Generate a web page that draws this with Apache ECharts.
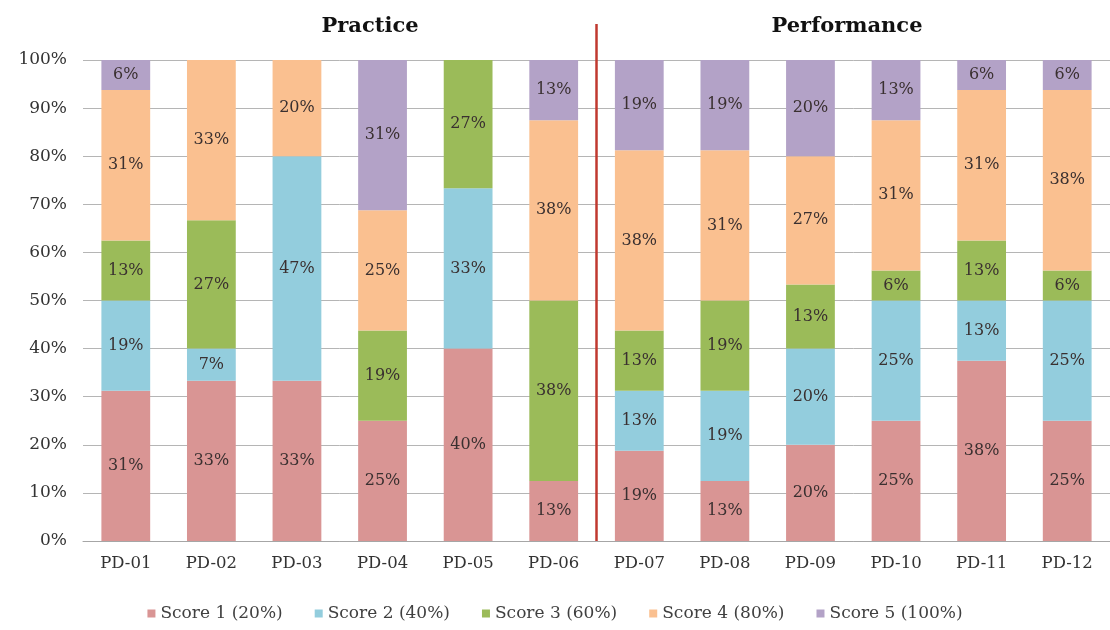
<!DOCTYPE html>
<html>
<head>
<meta charset="utf-8">
<script src="https://cdn.jsdelivr.net/npm/echarts@6/dist/echarts.min.js"></script>
<style>
  html, body { margin: 0; padding: 0; background: #fff; }
  #chart { width: 1110px; height: 630px; }
</style>
</head>
<body>
<div id="chart"></div>
<script>
// Share of responses per score level for each PD item (percent of raters)
const categories = ['PD-01', 'PD-02', 'PD-03', 'PD-04', 'PD-05', 'PD-06',
                    'PD-07', 'PD-08', 'PD-09', 'PD-10', 'PD-11', 'PD-12'];
const score1 = [31.25, 33.33, 33.33, 25, 40, 12.5, 18.75, 12.5, 20, 25, 37.5, 25];
const score2 = [18.75, 6.67, 46.67, 0, 33.33, 0, 12.5, 18.75, 20, 25, 12.5, 25];
const score3 = [12.5, 26.67, 0, 18.75, 26.67, 37.5, 12.5, 18.75, 13.33, 6.25, 12.5, 6.25];
const score4 = [31.25, 33.33, 20, 25, 0, 37.5, 37.5, 31.25, 26.67, 31.25, 31.25, 37.5];
const score5 = [6.25, 0, 0, 31.25, 0, 12.5, 18.75, 18.75, 20, 12.5, 6.25, 6.25];
const seriesNames = ['Score 1 (20%)', 'Score 2 (40%)', 'Score 3 (60%)', 'Score 4 (80%)', 'Score 5 (100%)'];
const seriesColors = ['#d99594', '#93cddd', '#9bbb59', '#fac090', '#b3a2c7'];
const yTicks = [0, 10, 20, 30, 40, 50, 60, 70, 80, 90, 100];
const groupTitles = ['Practice', 'Performance'];

const serif = '"DejaVu Serif", "Liberation Serif", serif';
const chart = echarts.init(document.getElementById('chart'));

const values = [score1, score2, score3, score4, score5];
const series = values.map((arr, i) => ({
  name: seriesNames[i],
  type: 'bar',
  stack: 'total',
  barWidth: '57%',
  data: arr,
  itemStyle: { color: seriesColors[i] },
  label: {
    show: true,
    position: 'inside',
    fontFamily: serif,
    fontSize: 16,
    color: '#3a3030',
    formatter: p => (p.value > 0 ? Math.round(p.value) + '%' : '')
  }
}));

chart.setOption({
  animation: false,
  backgroundColor: '#ffffff',
  title: [
    { text: groupTitles[0], left: 365, top: 11, textAlign: 'center',
      textStyle: { fontFamily: serif, fontSize: 21, fontWeight: 'bold', color: '#111' } },
    { text: groupTitles[1], left: 842, top: 11, textAlign: 'center',
      textStyle: { fontFamily: serif, fontSize: 21, fontWeight: 'bold', color: '#111' } }
  ],
  legend: {
    data: seriesNames,
    bottom: 3,
    left: 'center',
    icon: 'rect',
    itemWidth: 8,
    itemHeight: 8,
    itemGap: 32,
    textStyle: { fontFamily: serif, fontSize: 17, color: '#404040' }
  },
  grid: { left: 83, right: 0, top: 60, bottom: 89 },
  xAxis: {
    type: 'category',
    data: categories,
    axisLine: { show: true, lineStyle: { color: '#a6a6a6', width: 1 } },
    axisTick: { show: false },
    axisLabel: { fontFamily: serif, fontSize: 16.5, color: '#333', margin: 14 }
  },
  yAxis: {
    type: 'value',
    min: 0,
    max: 100,
    interval: 10,
    axisLine: { show: false },
    axisTick: { show: false },
    splitLine: { lineStyle: { color: '#b5b5b5', width: 1 } },
    axisLabel: {
      fontFamily: serif, fontSize: 17, color: '#333', margin: 16,
      formatter: v => (yTicks.includes(v) ? v + '%' : '')
    }
  },
  series: series
});

// Divider between the Practice and Performance item groups
function drawDivider() {
  const left = chart.convertToPixel({ xAxisIndex: 0 }, categories[5]);
  const right = chart.convertToPixel({ xAxisIndex: 0 }, categories[6]);
  const x = (left + right) / 2;
  const yBottom = chart.convertToPixel({ yAxisIndex: 0 }, 0);
  chart.setOption({
    graphic: [{
      type: 'line',
      z: 100,
      shape: { x1: x, y1: 24, x2: x, y2: yBottom },
      style: { stroke: '#c0392f', lineWidth: 2.5 }
    }]
  });
}
drawDivider();
</script>
</body>
</html>
